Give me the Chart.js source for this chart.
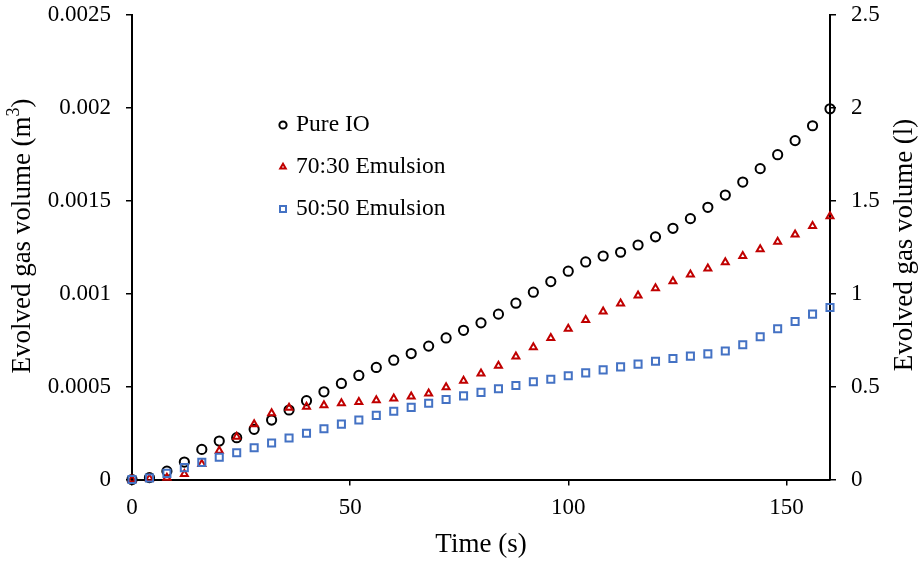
<!DOCTYPE html>
<html>
<head>
<meta charset="utf-8">
<title>Evolved gas volume</title>
<script src="https://cdn.jsdelivr.net/npm/chart.js@4.4.1/dist/chart.umd.min.js"></script>
<style>
  html, body { margin: 0; padding: 0; background: #fff; }
  #wrap { width: 920px; height: 561px; }
</style>
</head>
<body>
<div id="wrap"><canvas id="chart" width="920" height="561"></canvas></div>
<script>
// Sampling times (s)
const timeSeconds = [0, 4, 8, 12, 16, 20, 24, 28, 32, 36, 40, 44, 48, 52, 56, 60, 64, 68, 72, 76,
  80, 84, 88, 92, 96, 100, 104, 108, 112, 116, 120, 124, 128, 132, 136, 140, 144, 148, 152, 156, 160];

// Evolved gas volume (l) for each fluid
const pureIO = [0, 0.010, 0.045, 0.094, 0.162, 0.207, 0.225, 0.270, 0.320, 0.374, 0.424, 0.472, 0.517,
  0.560, 0.603, 0.642, 0.678, 0.718, 0.762, 0.803, 0.843, 0.890, 0.949, 1.008, 1.065, 1.121, 1.171,
  1.203, 1.223, 1.262, 1.306, 1.352, 1.404, 1.465, 1.531, 1.601, 1.673, 1.748, 1.824, 1.904, 1.995];
const emulsion7030 = [0, 0.006, 0.010, 0.030, 0.083, 0.155, 0.230, 0.298, 0.357, 0.386, 0.391, 0.400,
  0.410, 0.417, 0.427, 0.436, 0.447, 0.463, 0.497, 0.532, 0.571, 0.612, 0.662, 0.712, 0.761, 0.811,
  0.858, 0.904, 0.947, 0.990, 1.030, 1.067, 1.103, 1.135, 1.169, 1.203, 1.239, 1.279, 1.318, 1.365, 1.417];
const emulsion5050 = [0, 0.008, 0.033, 0.064, 0.092, 0.120, 0.144, 0.171, 0.196, 0.223, 0.249, 0.273,
  0.298, 0.320, 0.345, 0.367, 0.388, 0.410, 0.431, 0.450, 0.469, 0.488, 0.506, 0.526, 0.540, 0.558,
  0.574, 0.590, 0.606, 0.621, 0.636, 0.651, 0.664, 0.676, 0.692, 0.725, 0.768, 0.811, 0.850, 0.890, 0.926];

// Tick labels
const timeTicks = [0, 50, 100, 150];
const volumeTicksM3 = [0, 0.0005, 0.001, 0.0015, 0.002, 0.0025];
const volumeTicksL = [0, 0.5, 1, 1.5, 2, 2.5];

const seriesLabels = ['Pure IO', '70:30 Emulsion', '50:50 Emulsion'];

const SERIF = "'Liberation Serif', 'Times New Roman', serif";
const INK = '#000000';
const RED = '#C00000';
const BLUE = '#4472C4';

function points(values) {
  return timeSeconds.map((t, i) => ({ x: t, y: values[i] }));
}

// Small marker shapes shared by the inset legend
function drawMarker(ctx, style, x, y, color) {
  ctx.save();
  ctx.strokeStyle = color;
  ctx.lineWidth = 2;
  ctx.beginPath();
  if (style === 'circle') {
    ctx.arc(x, y, 3.6, 0, Math.PI * 2);
  } else if (style === 'triangle') {
    const r = 3.2;
    ctx.moveTo(x, y - r);
    ctx.lineTo(x + r * 0.866, y + r * 0.5);
    ctx.lineTo(x - r * 0.866, y + r * 0.5);
    ctx.closePath();
  } else {
    ctx.rect(x - 3, y - 3, 6, 6);
  }
  ctx.stroke();
  ctx.restore();
}

// Legend drawn inside the plot area
const insetLegend = {
  id: 'insetLegend',
  afterDatasetsDraw(chart, args, opts) {
    const ctx = chart.ctx;
    ctx.save();
    ctx.font = opts.fontSize + 'px ' + SERIF;
    ctx.fillStyle = INK;
    ctx.textBaseline = 'middle';
    ctx.textAlign = 'left';
    chart.data.datasets.forEach((ds, i) => {
      const y = opts.rows[i];
      drawMarker(ctx, ds.pointStyle, opts.markerX, y, ds.pointBorderColor);
      ctx.fillText(ds.label, opts.textX, y);
    });
    ctx.restore();
  }
};

// Vertical axis titles (both read bottom to top)
const sideTitles = {
  id: 'sideTitles',
  afterDraw(chart, args, opts) {
    const ctx = chart.ctx;
    const drawParts = (parts, cx, cy) => {
      ctx.save();
      ctx.translate(cx, cy);
      ctx.rotate(-Math.PI / 2);
      ctx.fillStyle = INK;
      ctx.textBaseline = 'middle';
      ctx.textAlign = 'left';
      let total = 0;
      parts.forEach(p => {
        ctx.font = p.size + 'px ' + SERIF;
        p.w = ctx.measureText(p.text).width;
        total += p.w;
      });
      let x = -total / 2;
      parts.forEach(p => {
        ctx.font = p.size + 'px ' + SERIF;
        ctx.fillText(p.text, x, p.rise || 0);
        x += p.w;
      });
      ctx.restore();
    };
    const fs = opts.fontSize;
    drawParts([
      { text: 'Evolved gas volume (m', size: fs },
      { text: '3', size: Math.round(fs * 0.65), rise: -fs * 0.32 },
      { text: ')', size: fs }
    ], opts.leftX, opts.leftY);
    drawParts([{ text: 'Evolved gas volume (l)', size: fs }], opts.rightX, opts.rightY);
  }
};

const axisGrid = {
  display: true,
  drawOnChartArea: false,
  drawTicks: true,
  tickLength: 6,
  color: INK,
  lineWidth: 1.5
};
const axisBorder = { display: true, color: INK, width: 2 };
const tickFont = { family: SERIF, size: 23 };

// Fixed box size for a vertical axis; its end labels may overhang the plot
function fitVertical(width) {
  return s => {
    s.width = width;
    s.paddingTop = 0;
    s.paddingBottom = 0;
  };
}

new Chart(document.getElementById('chart'), {
  type: 'scatter',
  data: {
    datasets: [
      {
        label: seriesLabels[0],
        data: points(pureIO),
        yAxisID: 'yL',
        pointStyle: 'circle',
        pointRadius: 4.6,
        pointBorderWidth: 2,
        pointBorderColor: INK,
        pointBackgroundColor: 'rgba(0,0,0,0)',
        showLine: false,
        clip: false,
        order: 3
      },
      {
        label: seriesLabels[1],
        data: points(emulsion7030),
        yAxisID: 'yL',
        pointStyle: 'triangle',
        pointRadius: 4,
        pointBorderWidth: 2,
        pointBorderColor: RED,
        pointBackgroundColor: 'rgba(0,0,0,0)',
        showLine: false,
        clip: false,
        order: 2
      },
      {
        label: seriesLabels[2],
        data: points(emulsion5050),
        yAxisID: 'yL',
        pointStyle: 'rect',
        pointRadius: 5,
        pointBorderWidth: 2,
        pointBorderColor: BLUE,
        pointBackgroundColor: 'rgba(0,0,0,0)',
        showLine: false,
        clip: false,
        order: 1
      }
    ]
  },
  options: {
    responsive: false,
    animation: false,
    events: [],
    layout: { padding: { top: 15, left: 0, right: 0, bottom: 0 } },
    scales: {
      x: {
        type: 'linear',
        position: 'bottom',
        min: 0,
        max: 160,
        afterBuildTicks: s => { s.ticks = timeTicks.map(v => ({ value: v })); },
        afterFit: s => { s.height = 81.5; s.paddingLeft = 0; s.paddingRight = 0; },
        grid: axisGrid,
        border: axisBorder,
        ticks: { font: tickFont, color: INK, padding: 9, maxRotation: 0 },
        title: {
          display: true,
          text: 'Time (s)',
          color: INK,
          font: { family: SERIF, size: 27 },
          padding: { top: 4, bottom: 0 }
        }
      },
      // Litres, the unit of the stored values
      yL: {
        type: 'linear',
        position: 'right',
        min: 0,
        max: 2.5,
        afterBuildTicks: s => { s.ticks = volumeTicksL.map(v => ({ value: v })); },
        afterFit: fitVertical(90),
        grid: axisGrid,
        border: axisBorder,
        ticks: {
          font: tickFont, color: INK, padding: 15,
          callback: v => String(Number(v.toFixed(2)))
        }
      },
      // Cubic metres, the same range expressed as volume / 1000
      yM3: {
        type: 'linear',
        position: 'left',
        min: 0,
        max: 0.0025,
        afterBuildTicks: s => { s.ticks = volumeTicksM3.map(v => ({ value: v })); },
        afterFit: fitVertical(132),
        grid: axisGrid,
        border: axisBorder,
        ticks: {
          font: tickFont, color: INK, padding: 15,
          callback: v => String(Number(v.toFixed(4)))
        }
      }
    },
    plugins: {
      legend: { display: false },
      tooltip: { enabled: false },
      insetLegend: { markerX: 283, textX: 296, rows: [125, 167, 209], fontSize: 23.5 },
      sideTitles: { fontSize: 27, leftX: 23, leftY: 236, rightX: 905, rightY: 245 }
    }
  },
  plugins: [insetLegend, sideTitles]
});
</script>
</body>
</html>
